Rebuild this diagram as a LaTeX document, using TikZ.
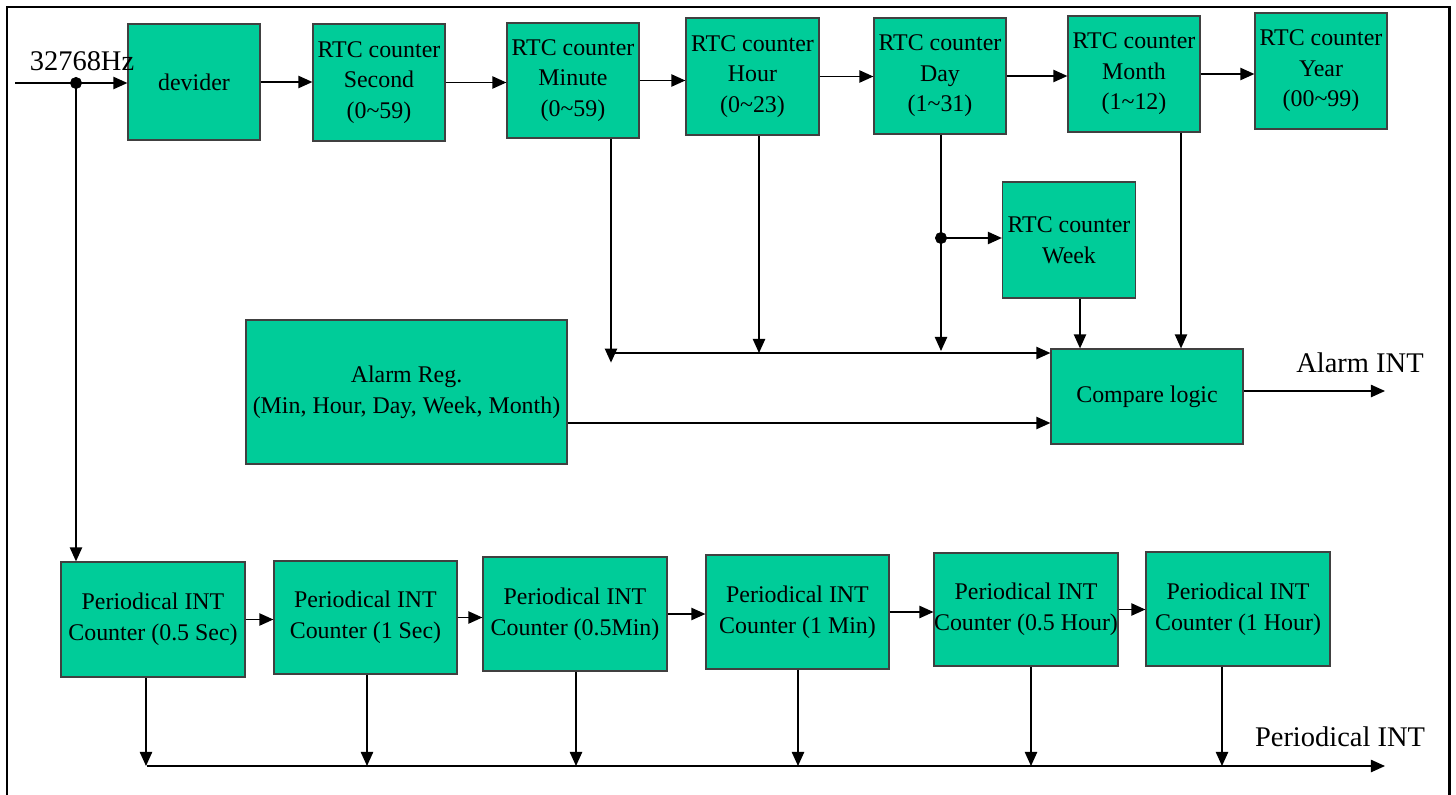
\documentclass[tikz,border=0pt]{standalone}
\usepackage{fontspec}
\setmainfont{Liberation Serif}
\usepackage{tikz}
\usetikzlibrary{arrows.meta}

\definecolor{boxgreen}{RGB}{0,204,153}
\newcommand{\boxfont}{\fontsize{13.6}{17.4}\selectfont}
\newcommand{\lblfont}{\fontsize{16.2}{19}\selectfont}

\begin{document}
\begin{tikzpicture}[x=0.02cm, y=-0.02cm,
		blk/.style={draw=black!75, fill=boxgreen, line width=0.7pt, inner sep=0pt, align=center, font=\boxfont},
		sz/.style 2 args={minimum width=#1*0.02cm, minimum height=#2*0.02cm},
		wire/.style={line width=0.85pt, -{Triangle[length=8pt,width=7pt]}}]
			\useasboundingbox (0,0) rectangle (1456,794);
			% Frame
			\draw[line width=1.7pt] (7,7) rectangle (1449,820);
			
			% RTC counters
			\node[blk, sz={132}{116}] (dev) at (194,82) {devider};
			\node[blk, sz={132}{117}] (sec) at (379,82.5) {RTC counter\\Second\\(0\textasciitilde59)};
			\node[blk, sz={132}{115}] (min) at (573,80.5) {RTC counter\\Minute\\(0\textasciitilde59)};
			\node[blk, sz={133}{117}] (hour) at (752.5,76.5) {RTC counter\\Hour\\(0\textasciitilde23)};
			\node[blk, sz={132}{116}] (day) at (940,76) {RTC counter\\Day\\(1\textasciitilde31)};
			\node[blk, sz={132}{116}] (month) at (1134,74) {RTC counter\\Month\\(1\textasciitilde12)};
			\node[blk, sz={132}{116}] (year) at (1321,71) {RTC counter\\Year\\(00\textasciitilde99)};
			\node[blk, sz={133}{116}] (week) at (1069,240) {RTC counter\\Week};
			
			% Alarm part
			\node[blk, sz={321}{144}] (alarm) at (406.5,392) {Alarm Reg.\\(Min, Hour, Day, Week, Month)};
			\node[blk, sz={192}{95}] (cmp) at (1147,396.5) {Compare logic};
			\node[font=\lblfont, anchor=base] (alarmint) at (1360,372) {Alarm INT};
			
			% Periodical INT counters
			\node[blk, sz={184}{115}] (p1) at (153,619.5) {Periodical INT\\Counter (0.5 Sec)};
			\node[blk, sz={183}{113}] (p2) at (365.5,617.5) {Periodical INT\\Counter (1 Sec)};
			\node[blk, sz={184}{114}] (p3) at (575,614) {Periodical INT\\Counter (0.5Min)};
			\node[blk, sz={183}{114}] (p4) at (797.5,612) {Periodical INT\\Counter (1 Min)};
			\node[blk, sz={182}{113}] (p5) at (1026,609.5) {Periodical INT\\Counter (0.5 Hour)};
			\node[blk, sz={184}{114}] (p6) at (1238,609) {Periodical INT\\Counter (1 Hour)};
			\node[font=\lblfont, anchor=base] (perint) at (1340,746) {Periodical INT};
			
			% Clock input
			\node[font=\lblfont, anchor=base] (clk) at (82,71) {32768Hz};
			\coordinate (in) at (15,83);
			\coordinate (split) at (76,83);
			\draw[wire] (in) -- (in -| dev.west);
			\draw[wire] (split) -- (split |- p1.north);
			\filldraw (split) circle (3.2pt);
			
			% Counter chain
			\foreach \a/\b in {dev/sec, sec/min, min/hour, hour/day, day/month, month/year} {
				\draw[wire] (\a.east) -- (\a.east -| \b.west);
			}
			
			% Counters to compare logic
			\coordinate (mtap) at (611,353);
			\coordinate (htap) at (759,353);
			\coordinate (dtap) at (941,351);
			\coordinate (wtap) at (941,238);
			\draw[wire] (mtap) -- (mtap -| cmp.west);
			\draw[wire] (min.south -| mtap) -- ++(0,224);
			\draw[wire] (hour.south -| htap) -- (htap);
			\draw[wire] (day.south -| dtap) -- (dtap);
			\draw[wire] (wtap) -- (wtap -| week.west);
			\filldraw (wtap) circle (3.2pt);
			\draw[wire] ([xshift=0.22cm]week.south) -- ([xshift=0.22cm]week.south |- cmp.north);
			\draw[wire] ([xshift=0.94cm]month.south) -- ([xshift=0.94cm]month.south |- cmp.north);
			\draw[wire] ([yshift=-0.62cm]alarm.east) -- ([yshift=-0.62cm]alarm.east -| cmp.west);
			
			% Alarm output
			\coordinate (aout) at (1385,391);
			\draw[wire] (cmp.east |- aout) -- (aout);
			
			% Periodical chain and output
			\foreach \a/\b in {p1/p2, p2/p3, p3/p4, p4/p5, p5/p6} {
				\draw[wire] (\a.east) -- (\a.east -| \b.west);
			}
			\coordinate (pbus) at (147,766);
			\coordinate (pout) at (1385,766);
			\draw[wire] (pbus) -- (pout);
			\foreach \p/\dx in {p1/-7, p2/1.5, p3/1, p4/0.5, p5/5, p6/-16} {
				\draw[wire] ([xshift=\dx*0.02cm]\p.south) -- ([xshift=\dx*0.02cm]\p.south |- pbus);
			}
		\end{tikzpicture}
\end{document}
